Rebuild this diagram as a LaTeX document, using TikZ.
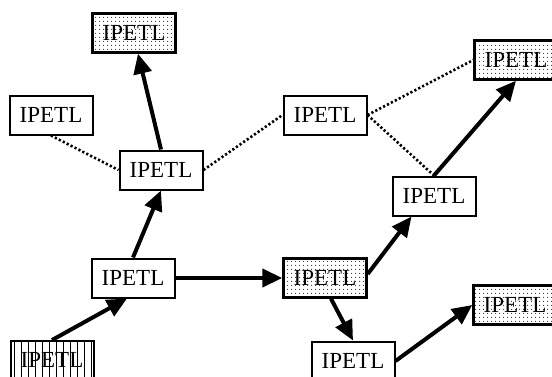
\documentclass[tikz,border=0pt]{standalone}
\usepackage{fontspec}
\setmainfont{Liberation Serif}
\usetikzlibrary{arrows.meta,patterns.meta}
\begin{document}
\begin{tikzpicture}[x=1pt,y=-1pt,
    box/.style={draw,line width=2pt,minimum width=83pt,minimum height=39pt,
      inner sep=0pt,font=\fontsize{23}{24}\selectfont},
    dotbox/.style={box,line width=2.4pt,pattern={Dots[distance=4pt,radius=0.65pt]},
      pattern color=black!80},
    linebox/.style={box,pattern={Lines[angle=90,distance=7pt,line width=0.9pt]}},
    flow/.style={line width=4pt,-{Triangle[length=20pt,width=18pt]}},
    link/.style={line width=2.6pt,dash pattern=on 2.2pt off 2.2pt}]
    \clip (0,0) rectangle (552,376);
    % the boxes
    \node[linebox] (src) at (52,360) {IPETL};
    \node[box] (base) at (133,278) {IPETL};
    \node[box] (hub) at (161,170) {IPETL};
    \node[dotbox] (peak) at (134,33) {IPETL};
    \node[box] (side) at (51,115) {IPETL};
    \node[box] (bridge) at (325,115) {IPETL};
    \node[dotbox] (corner) at (516,60) {IPETL};
    \node[box] (riser) at (434,196) {IPETL};
    \node[dotbox] (turn) at (325,278) {IPETL};
    \node[box] (low) at (353,361) {IPETL};
    \node[dotbox] (tail) at (515,305) {IPETL};
    % thick arrows
    \draw[flow] (src.north) -- ([xshift=-6pt]base.south);
    \draw[flow] (base.north) -- (hub.south);
    \draw[flow] (hub.north) -- ([xshift=4pt]peak.south);
    \draw[flow] (base.east) -- (turn.west);
    \draw[flow] ([yshift=4pt]turn.east) -- ([xshift=20pt]riser.south west);
    \draw[flow] (riser.north) -- (corner.south);
    \draw[flow] ([xshift=6pt]turn.south) -- (low.north);
    \draw[flow] (low.east) -- (tail.west);
    % dotted links
    \draw[link] (side.south) -- (hub.west);
    \draw[link] (hub.east) -- (bridge.west);
    \draw[link] (bridge.east) -- (corner.west);
    \draw[link] (bridge.east) -- (riser.north);
\end{tikzpicture}
\end{document}
